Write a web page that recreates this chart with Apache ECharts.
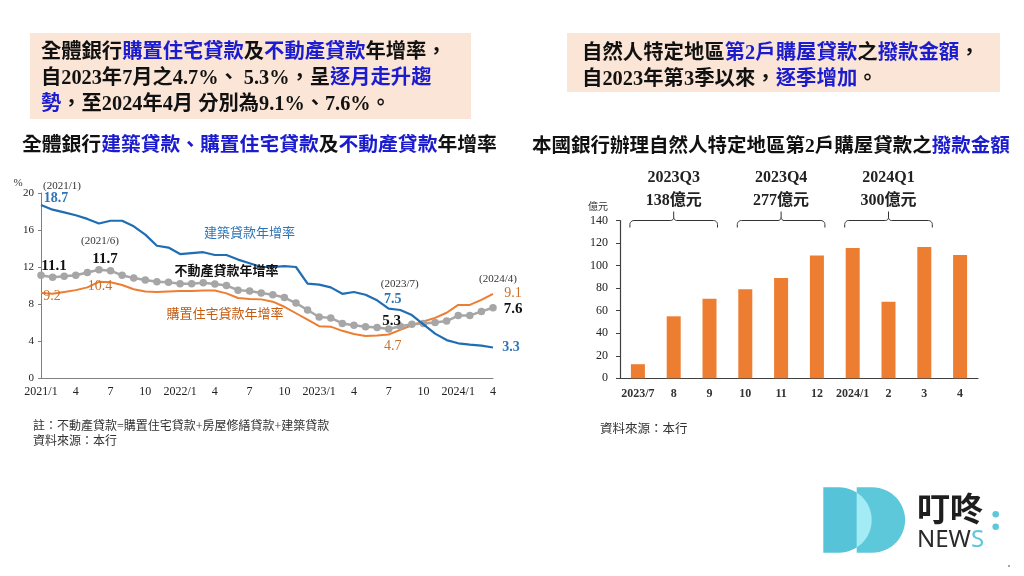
<!DOCTYPE html>
<html><head><meta charset="utf-8">
<script src="https://cdn.jsdelivr.net/npm/echarts@6/dist/echarts.min.js"></script>
<style>html,body{margin:0;padding:0;background:#fff}#c{width:1024px;height:576px}</style>
</head><body><div id="c"></div>
<script>
// ---------- data ----------
const months = ['2021/1','2021/2','2021/3','2021/4','2021/5','2021/6','2021/7','2021/8','2021/9','2021/10','2021/11','2021/12',
  '2022/1','2022/2','2022/3','2022/4','2022/5','2022/6','2022/7','2022/8','2022/9','2022/10','2022/11','2022/12',
  '2023/1','2023/2','2023/3','2023/4','2023/5','2023/6','2023/7','2023/8','2023/9','2023/10','2023/11','2023/12',
  '2024/1','2024/2','2024/3','2024/4'];
const construction = [18.7,18.2,17.9,17.6,17.2,16.7,17.0,17.0,16.4,15.5,14.3,14.1,
  13.4,13.5,13.6,13.3,13.3,12.8,12.4,12.0,12.0,12.1,12.0,10.2,
  10.1,9.8,9.1,9.3,9.0,8.4,7.5,7.35,6.8,5.8,4.8,4.1,
  3.75,3.6,3.5,3.3];
const realEstate = [11.1,10.9,11.0,11.1,11.4,11.7,11.6,11.1,10.8,10.6,10.4,10.35,
  10.2,10.2,10.3,10.15,10.0,9.5,9.4,9.2,9.0,8.7,8.1,7.35,
  6.6,6.5,5.9,5.7,5.55,5.45,5.3,5.6,5.8,5.9,6.0,6.15,
  6.75,6.75,7.2,7.6];
const housing = [9.2,9.1,9.3,9.5,9.8,10.4,10.35,10.05,9.6,9.35,9.3,9.35,
  9.4,9.4,9.45,9.45,9.15,8.65,8.55,8.5,8.25,7.7,7.0,6.3,
  5.6,5.55,5.1,4.75,4.55,4.6,4.7,5.2,5.7,6.1,6.5,7.05,
  7.9,7.9,8.45,9.1];
const barMonths = ['2023/7','2023/8','2023/9','2023/10','2023/11','2023/12','2024/1','2024/2','2024/3','2024/4'];
const disbursement = [12.5,55,70.5,79,89,109,115.5,68,116.5,109.5];
const quarters = ['2023Q3','2023Q4','2024Q1'];
const quarterTotals = [138,277,300];
const quarterFirstLast = [['2023/7','2023/9'],['2023/10','2023/12'],['2024/1','2024/3']];

// ---------- styles ----------
const SERIF = "'Liberation Serif','Times New Roman','Noto Sans CJK TC',serif";
const CJK = "'Liberation Serif','Noto Sans CJK TC',sans-serif";
const BLUE_TXT = '#1c1ccf';
const k = (fs, lh) => ({fontSize: fs, fontWeight: 'bold', fontFamily: CJK, color: '#111', lineHeight: lh});
const b = (fs, lh) => ({fontSize: fs, fontWeight: 'bold', fontFamily: CJK, color: BLUE_TXT, lineHeight: lh});
const monthFmt = (v, idx) => (idx === 0 || v.endsWith('/1')) ? v : v.split('/')[1];

const chart = echarts.init(document.getElementById('c'));
const option = {
  animation: false,
  backgroundColor: '#fff',
  title: [
    {left: 41, top: 40, padding: 0, z: 10,
     text: '{k|全體銀行}{b|購置住宅貸款}{k|及}{b|不動產貸款}{k|年增率，}\n{k|自2023年7月之4.7%、 5.3%，呈}{b|逐月走升趨}\n{b|勢}{k|，至2024年4月 分別為9.1%、7.6%。}',
     textStyle: {rich: {k: k(20.3, 26), b: b(20.3, 26)}}},
    {left: 582, top: 41, padding: 0, z: 10,
     text: '{k|自然人特定地區}{b|第2戶購屋貸款}{k|之}{b|撥款金額}{k|，}\n{k|自2023年第3季以來，}{b|逐季增加}{k|。}',
     textStyle: {rich: {k: k(20.4, 25.5), b: b(20.4, 25.5)}}},
    {left: 22, top: 134, padding: 0, z: 10,
     text: '{k|全體銀行}{b|建築貸款、購置住宅貸款}{k|及}{b|不動產貸款}{k|年增率}',
     textStyle: {rich: {k: k(19.8, 24), b: b(19.8, 24)}}},
    {left: 532, top: 135, padding: 0, z: 10,
     text: '{k|本國銀行辦理自然人特定地區第2戶購屋貸款之}{b|撥款金額}',
     textStyle: {rich: {k: k(19.5, 24), b: b(19.5, 24)}}}
  ],
  grid: [
    {left: 41, top: 193, width: 452, height: 185, containLabel: false, outerBoundsMode: 'none'},
    {left: 620, top: 220.5, width: 358, height: 157.8, containLabel: false, outerBoundsMode: 'none'}
  ],
  xAxis: [
    {type: 'category', gridIndex: 0, data: months, boundaryGap: false,
     axisLine: {lineStyle: {color: '#808080', width: 1}}, axisTick: {show: false},
     axisLabel: {interval: 2, formatter: monthFmt, fontFamily: SERIF, fontSize: 12, color: '#222', margin: 8}},
    {type: 'category', gridIndex: 1, data: barMonths,
     axisLine: {lineStyle: {color: '#404040', width: 1.2}}, axisTick: {show: false},
     axisLabel: {interval: 0, formatter: monthFmt, fontFamily: SERIF, fontSize: 12, fontWeight: 'bold', color: '#333', margin: 10}}
  ],
  yAxis: [
    {type: 'value', gridIndex: 0, min: 0, max: 20, interval: 4,
     axisLine: {show: true, lineStyle: {color: '#808080', width: 1}},
     axisTick: {show: true, length: 3, lineStyle: {color: '#808080'}}, splitLine: {show: false},
     axisLabel: {fontFamily: SERIF, fontSize: 11, color: '#222', margin: 7}},
    {type: 'value', gridIndex: 1, min: 0, max: 140, interval: 20,
     axisLine: {show: true, lineStyle: {color: '#404040', width: 1.2}},
     axisTick: {show: true, length: 4, lineStyle: {color: '#404040'}}, splitLine: {show: false},
     axisLabel: {fontFamily: SERIF, fontSize: 12, color: '#222', margin: 12}}
  ],
  series: [
    {type: 'line', name: '購置住宅貸款年增率', xAxisIndex: 0, yAxisIndex: 0, data: housing,
     symbol: 'none', lineStyle: {color: '#ed7d31', width: 2}, z: 2},
    {type: 'line', name: '不動產貸款年增率', xAxisIndex: 0, yAxisIndex: 0, data: realEstate,
     symbol: 'circle', symbolSize: 7.5, itemStyle: {color: '#a6a6a6'}, lineStyle: {color: '#a6a6a6', width: 2.5}, z: 3},
    {type: 'line', name: '建築貸款年增率', xAxisIndex: 0, yAxisIndex: 0, data: construction,
     symbol: 'none', lineStyle: {color: '#1f6db3', width: 2.2}, z: 4},
    {type: 'bar', name: '撥款金額', xAxisIndex: 1, yAxisIndex: 1, data: disbursement,
     barWidth: 14, itemStyle: {color: '#ed7d31'}}
  ]
};
chart.setOption(option);

// ---------- annotations (positioned through the chart's own scales) ----------
function txt(x, y, text, st, align) {
  return {type: 'text', x: x, y: y, z: 20,
    style: Object.assign({text: text, textAlign: align || 'center', textVerticalAlign: 'middle',
      align: align || 'center', verticalAlign: 'middle', fontFamily: SERIF, fontSize: 12, fill: '#222'}, st)};
}
const P = (gi, cat, v) => chart.convertToPixel({gridIndex: gi}, [cat, v]);
const S = {
  paren: {fontSize: 11, fill: '#333'},
  blueNum: {fontSize: 14, fontWeight: 'bold', fill: '#2e75b6'},
  blackNum: {fontSize: 15, fontWeight: 'bold', fill: '#111'},
  orangeNum: {fontSize: 14, fill: '#c8702c'}
};
const notes = [
  [construction, 0, 21, -19, '(2021/1)', S.paren],
  [construction, 0, 15, -7, '18.7', S.blueNum],
  [realEstate, 5, 1, -29, '(2021/6)', S.paren],
  [realEstate, 5, 6, -11, '11.7', S.blackNum],
  [realEstate, 0, 13, -9, '11.1', S.blackNum],
  [housing, 0, 11, 3, '9.2', S.orangeNum],
  [housing, 5, 1, 5, '10.4', S.orangeNum],
  [construction, 30, 11, -25, '(2023/7)', S.paren],
  [construction, 30, 4, -9, '7.5', S.blueNum],
  [realEstate, 30, 3, -8, '5.3', S.blackNum],
  [housing, 30, 4, 12, '4.7', S.orangeNum],
  [housing, 39, 5, -15, '(2024/4)', S.paren],
  [housing, 39, 20, 0, '9.1', S.orangeNum],
  [realEstate, 39, 20, 1, '7.6', S.blackNum],
  [construction, 39, 18, 0, '3.3', S.blueNum],
  [construction, 18, 0, -30, '建築貸款年增率', {fontSize: 13, fontFamily: CJK, fill: '#2e75b6'}],
  [realEstate, 16, 0, -13.5, '不動產貸款年增率', {fontSize: 13, fontFamily: CJK, fontWeight: 'bold', fill: '#111'}],
  [housing, 16, -1.5, 21.5, '購置住宅貸款年增率', {fontSize: 13, fontFamily: CJK, fill: '#c55a11'}]
];
const g = [];
g.push({type: 'rect', z: 1, shape: {x: 30, y: 33, width: 441, height: 86}, style: {fill: '#fbe5d6'}});
g.push({type: 'rect', z: 1, shape: {x: 567, y: 33, width: 433, height: 59}, style: {fill: '#fbe5d6'}});
notes.forEach(n => {
  const p = P(0, months[n[1]], n[0][n[1]]);
  g.push(txt(p[0] + n[2], p[1] + n[3], n[4], n[5]));
});
g.push(txt(18, 183, '%', {fontSize: 11, fill: '#333'}));
g.push(txt(598, 207, '億元', {fontSize: 10, fontFamily: CJK, fill: '#333'}));

// quarter braces
function arcPts(cx, cy, r, a0, a1, n) {
  const pts = [];
  for (let i = 0; i <= n; i++) {
    const a = a0 + (a1 - a0) * i / n;
    pts.push([cx + r * Math.cos(a), cy + r * Math.sin(a)]);
  }
  return pts;
}
quarters.forEach((q, qi) => {
  const a = P(1, quarterFirstLast[qi][0], 140);
  const c = P(1, quarterFirstLast[qi][1], 140);
  const x0 = a[0] - 8, x1 = c[0] + 8, y = a[1], xm = (x0 + x1) / 2;
  const left = [[x0, y + 7]].concat(arcPts(x0 + 4, y + 4, 4, Math.PI, 1.5 * Math.PI, 6))
    .concat(arcPts(xm - 3, y - 3, 3, 0.5 * Math.PI, 0, 4)).concat([[xm, y - 9]]);
  const right = [[xm, y - 3]].concat(arcPts(xm + 3, y - 3, 3, Math.PI, 0.5 * Math.PI, 4))
    .concat(arcPts(x1 - 4, y + 4, 4, 1.5 * Math.PI, 2 * Math.PI, 6)).concat([[x1, y + 7]]);
  g.push({type: 'polyline', z: 15, shape: {points: left}, style: {fill: null, stroke: '#333', lineWidth: 1}});
  g.push({type: 'polyline', z: 15, shape: {points: right}, style: {fill: null, stroke: '#333', lineWidth: 1}});
  g.push(txt(xm, y - 43, q, {fontSize: 16, fontWeight: 'bold', fill: '#222'}));
  g.push(txt(xm, y - 20, quarterTotals[qi] + '億元', {fontSize: 16, fontWeight: 'bold', fontFamily: CJK, fill: '#222'}));
});

// footnotes
g.push(txt(33, 427, '註：不動產貸款=購置住宅貸款+房屋修繕貸款+建築貸款', {fontSize: 12, fontFamily: CJK, fill: '#333'}, 'left'));
g.push(txt(33, 442, '資料來源：本行', {fontSize: 12, fontFamily: CJK, fill: '#333'}, 'left'));
g.push(txt(600, 430, '資料來源：本行', {fontSize: 12.5, fontFamily: CJK, fill: '#333'}, 'left'));

// logo
function dShape(x0, top, r) {
  const cx = x0 + 15.7, cy = top + r;
  return [[x0, top]].concat(arcPts(cx, cy, r, -0.5 * Math.PI, 0.5 * Math.PI, 30)).concat([[x0, top + 2 * r]]);
}
g.push({type: 'polygon', z: 5, shape: {points: dShape(823.3, 487.3, 32.7)}, style: {fill: '#56c3d8'}});
g.push({type: 'polygon', z: 5, shape: {points: dShape(856.7, 487.3, 32.7)}, style: {fill: '#5ec8db'}});
const lensA = Math.acos(17.7 / 32.7);
g.push({type: 'polygon', z: 6, shape: {points: arcPts(839, 520, 32.7, -lensA, lensA, 20)}, style: {fill: '#a3ebf5'}});
g.push(txt(950, 508, '叮咚', {fontSize: 33, fontFamily: "'Noto Sans CJK TC',sans-serif", fontWeight: 'bold', fill: '#1e1e1e'}));
g.push({type: 'text', x: 917, y: 540, z: 20, style: {text: '{n|NEW}{s|S}', textVerticalAlign: 'middle', verticalAlign: 'middle',
  rich: {n: {fontSize: 24, fontFamily: "'Noto Sans',sans-serif", fill: '#2a2a2a', color: '#2a2a2a'},
         s: {fontSize: 24, fontFamily: "'Noto Sans',sans-serif", fill: '#5ec8db', color: '#5ec8db'}}}});
g.push({type: 'circle', z: 20, shape: {cx: 995.7, cy: 514.3, r: 3.3}, style: {fill: '#5ec8db'}});
g.push({type: 'circle', z: 20, shape: {cx: 995.7, cy: 526.7, r: 3.3}, style: {fill: '#5ec8db'}});
g.push({type: 'circle', z: 20, shape: {cx: 1009, cy: 566, r: 0.8}, style: {fill: '#333'}});

chart.setOption({graphic: g});
</script></body></html>
